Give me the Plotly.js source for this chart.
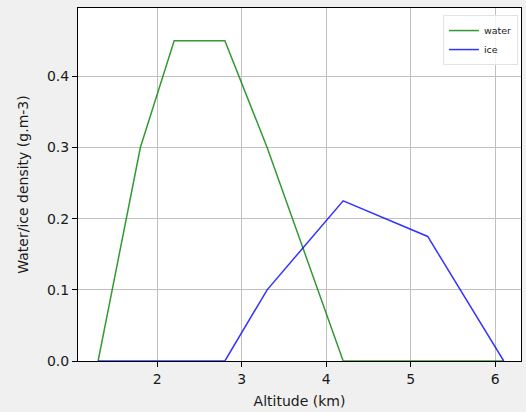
<!DOCTYPE html>
<html>
<head>
<meta charset="utf-8">
<script src="https://cdn.plot.ly/plotly-3.0.1.min.js"></script>
<style>html,body{margin:0;padding:0;background:#f0f0f0;}</style>
</head>
<body>
<div id="chart" style="width:526px;height:412px;"></div>
<script>
const altitude = [1.3, 1.8, 2.2, 2.8, 3.3, 4.2, 5.2, 6.1];
const water = [0, 0.3, 0.45, 0.45, 0.3, 0, 0, 0];
const ice = [0, 0, 0, 0, 0.1, 0.225, 0.175, 0];
const xTicks = [2, 3, 4, 5, 6];
const yTicks = [0, 0.1, 0.2, 0.3, 0.4];
const yTickText = ['0.0', '0.1', '0.2', '0.3', '0.4'];

const font = {family: 'DejaVu Sans', size: 14, color: '#1a1a1a'};

const traces = [
  {x: altitude, y: water, name: 'water', type: 'scatter', mode: 'lines',
   line: {color: 'rgba(0,128,0,0.8)', width: 1.5}},
  {x: altitude, y: ice, name: 'ice', type: 'scatter', mode: 'lines',
   line: {color: 'rgba(0,0,255,0.8)', width: 1.5}}
];

const axisCommon = {
  showgrid: true, gridcolor: '#c0c0c0', gridwidth: 1,
  showline: true, linecolor: '#000', linewidth: 1, mirror: true,
  ticks: 'outside', ticklen: 5, tickwidth: 1, tickcolor: '#000',
  zeroline: false, tickfont: font
};

const layout = {
  width: 526, height: 412,
  margin: {l: 78, r: 5, t: 8, b: 51},
  paper_bgcolor: '#f0f0f0', plot_bgcolor: '#ffffff',
  font: font,
  showlegend: true,
  xaxis: Object.assign({}, axisCommon, {
    range: [1.062, 6.304], tickvals: xTicks, ticktext: xTicks.map(String),
    title: {text: 'Altitude (km)', font: font, standoff: 10}
  }),
  yaxis: Object.assign({}, axisCommon, {
    range: [0, 0.496], tickvals: yTicks, ticktext: yTickText,
    title: {text: 'Water/ice density (g.m-3)', font: font, standoff: 15}
  }),
  legend: {
    x: 0.993, y: 0.98, xanchor: 'right', yanchor: 'top',
    bgcolor: 'rgba(255,255,255,0.8)', bordercolor: '#e3e3e3', borderwidth: 1,
    font: {family: 'DejaVu Sans', size: 9.5, color: '#1a1a1a'},
    itemwidth: 30, tracegroupgap: 0
  }
};

Plotly.newPlot('chart', traces, layout, {displayModeBar: false, staticPlot: true});
</script>
</body>
</html>
